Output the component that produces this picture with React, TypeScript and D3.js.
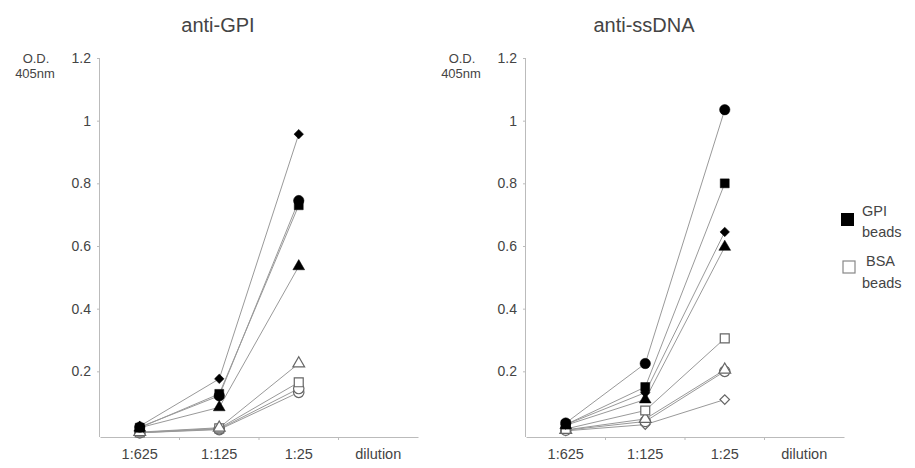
import { useEffect, useRef } from 'react';
import * as d3 from 'd3';

const dilutions = ['1:625', '1:125', '1:25', 'dilution'];
const yTicks = [0.2, 0.4, 0.6, 0.8, 1, 1.2];

// anti-GPI panel
const gpiFilledDiamond = [0.025, 0.176, 0.957];
const gpiFilledCircle = [0.022, 0.122, 0.745];
const gpiFilledSquare = [0.02, 0.128, 0.73];
const gpiFilledTriangle = [0.02, 0.085, 0.535];
const gpiOpenTriangle = [0.006, 0.02, 0.225];
const gpiOpenSquare = [0.005, 0.018, 0.165];
const gpiOpenDiamond = [0.004, 0.016, 0.145];
const gpiOpenCircle = [0.004, 0.014, 0.133];

// anti-ssDNA panel
const dnaFilledCircle = [0.035, 0.225, 1.035];
const dnaFilledSquare = [0.03, 0.15, 0.8];
const dnaFilledDiamond = [0.03, 0.132, 0.645];
const dnaFilledTriangle = [0.028, 0.11, 0.597];
const dnaOpenSquare = [0.016, 0.075, 0.305];
const dnaOpenTriangle = [0.013, 0.048, 0.205];
const dnaOpenCircle = [0.012, 0.04, 0.2];
const dnaOpenDiamond = [0.01, 0.03, 0.11];

type Series = { values: number[]; shape: string; filled: boolean };

const shapes: Record<string, d3.SymbolType> = {
  circle: d3.symbolCircle,
  square: d3.symbolSquare,
  diamond: d3.symbolSquare, // drawn rotated 45deg
  triangle: d3.symbolTriangle,
};
const sizes: Record<string, number> = { circle: 85, square: 80, diamond: 45, triangle: 60 };

const panels = [
  {
    title: 'anti-GPI',
    x0: 100,
    series: [
      { values: gpiOpenCircle, shape: 'circle', filled: false },
      { values: gpiOpenDiamond, shape: 'circle', filled: false },
      { values: gpiOpenSquare, shape: 'square', filled: false },
      { values: gpiOpenTriangle, shape: 'triangle', filled: false },
      { values: gpiFilledTriangle, shape: 'triangle', filled: true },
      { values: gpiFilledSquare, shape: 'square', filled: true },
      { values: gpiFilledCircle, shape: 'circle', filled: true },
      { values: gpiFilledDiamond, shape: 'diamond', filled: true },
    ] as Series[],
  },
  {
    title: 'anti-ssDNA',
    x0: 526,
    series: [
      { values: dnaOpenDiamond, shape: 'diamond', filled: false },
      { values: dnaOpenCircle, shape: 'circle', filled: false },
      { values: dnaOpenTriangle, shape: 'triangle', filled: false },
      { values: dnaOpenSquare, shape: 'square', filled: false },
      { values: dnaFilledTriangle, shape: 'triangle', filled: true },
      { values: dnaFilledDiamond, shape: 'diamond', filled: true },
      { values: dnaFilledSquare, shape: 'square', filled: true },
      { values: dnaFilledCircle, shape: 'circle', filled: true },
    ] as Series[],
  },
];

export default function App() {
  const svgRef = useRef<SVGSVGElement>(null);

  useEffect(() => {
    const svg = d3.select(svgRef.current);
    svg.selectAll('*').remove();
    const font = 'Arial, "Liberation Sans", Helvetica, sans-serif';
    const textColor = '#444';
    const axisColor = '#bbb';

    const y = d3.scaleLinear().domain([0, 1.2]).range([434, 58]);

    panels.forEach(p => {
      const x = d3.scaleBand().domain(dilutions).range([p.x0, p.x0 + 318]);
      const g = svg.append('g').attr('font-family', font);

      // Title
      g.append('text')
        .attr('x', p.x0 + 118)
        .attr('y', 32)
        .attr('text-anchor', 'middle')
        .attr('fill', textColor)
        .attr('font-size', '20px')
        .text(p.title);

      // Y axis
      const yAx = g.append('g')
        .attr('transform', `translate(${p.x0},0)`)
        .call(d3.axisLeft(y).tickValues(yTicks).tickSize(3).tickPadding(6).tickFormat(d => String(d)));
      yAx.select('.domain').attr('stroke', axisColor).attr('d', `M-0.5,${y(1.2)}V437`);
      yAx.selectAll('.tick line').attr('stroke', axisColor);
      yAx.selectAll('text').attr('fill', textColor).attr('font-size', '14px').attr('font-family', font);

      // X axis
      const xAx = g.append('g')
        .attr('transform', 'translate(0,437)')
        .call(d3.axisBottom(x).tickSize(0).tickPadding(12));
      xAx.select('.domain').attr('stroke', axisColor);
      xAx.selectAll('text').attr('fill', textColor).attr('font-size', '14.5px').attr('font-family', font);
      dilutions.slice(0, 3).forEach(d => {
        g.append('line')
          .attr('x1', (x(d) as number) + x.bandwidth())
          .attr('x2', (x(d) as number) + x.bandwidth())
          .attr('y1', 437).attr('y2', 440)
          .attr('stroke', axisColor);
      });

      // Y label
      const lx = p.x0 - 64;
      g.append('text').attr('x', lx).attr('y', 63).attr('text-anchor', 'middle')
        .attr('fill', textColor).attr('font-size', '13px').text('O.D.');
      g.append('text').attr('x', lx - 1).attr('y', 78).attr('text-anchor', 'middle')
        .attr('fill', textColor).attr('font-size', '13px').text('405nm');

      const cx = (i: number) => (x(dilutions[i]) as number) + x.bandwidth() / 2;
      const line = d3.line<number>().x((_, i) => cx(i)).y(v => y(v));

      p.series.forEach(s => {
        g.append('path')
          .datum(s.values)
          .attr('fill', 'none')
          .attr('stroke', '#999')
          .attr('stroke-width', 1)
          .attr('d', line);
      });
      p.series.forEach(s => {
        const sym = d3.symbol().type(shapes[s.shape]).size(sizes[s.shape]);
        const rot = s.shape === 'diamond' ? ' rotate(45)' : '';
        s.values.forEach((v, i) => {
          g.append('path')
            .attr('d', sym() as string)
            .attr('transform', `translate(${cx(i)},${y(v)})${rot}`)
            .attr('fill', s.filled ? '#000' : '#fff')
            .attr('stroke', s.filled ? '#000' : '#666')
            .attr('stroke-width', s.filled ? 0.5 : 1.2);
        });
      });
    });

    // Legend
    const lg = svg.append('g').attr('font-family', font).attr('fill', textColor).attr('font-size', '14.5px');
    lg.append('rect').attr('x', 841).attr('y', 213).attr('width', 13).attr('height', 13).attr('fill', '#000');
    lg.append('text').attr('x', 862).attr('y', 216).text('GPI');
    lg.append('text').attr('x', 862).attr('y', 237).text('beads');
    lg.append('rect').attr('x', 843).attr('y', 261).attr('width', 12).attr('height', 12)
      .attr('fill', '#fff').attr('stroke', '#888').attr('stroke-width', 1.2);
    lg.append('text').attr('x', 866).attr('y', 266).text('BSA');
    lg.append('text').attr('x', 862).attr('y', 288).text('beads');
  }, []);

  return (
    <div style={{ margin: -8 }}>
      <svg ref={svgRef} width={915} height={468} style={{ display: 'block', background: '#fff' }} />
    </div>
  );
}
